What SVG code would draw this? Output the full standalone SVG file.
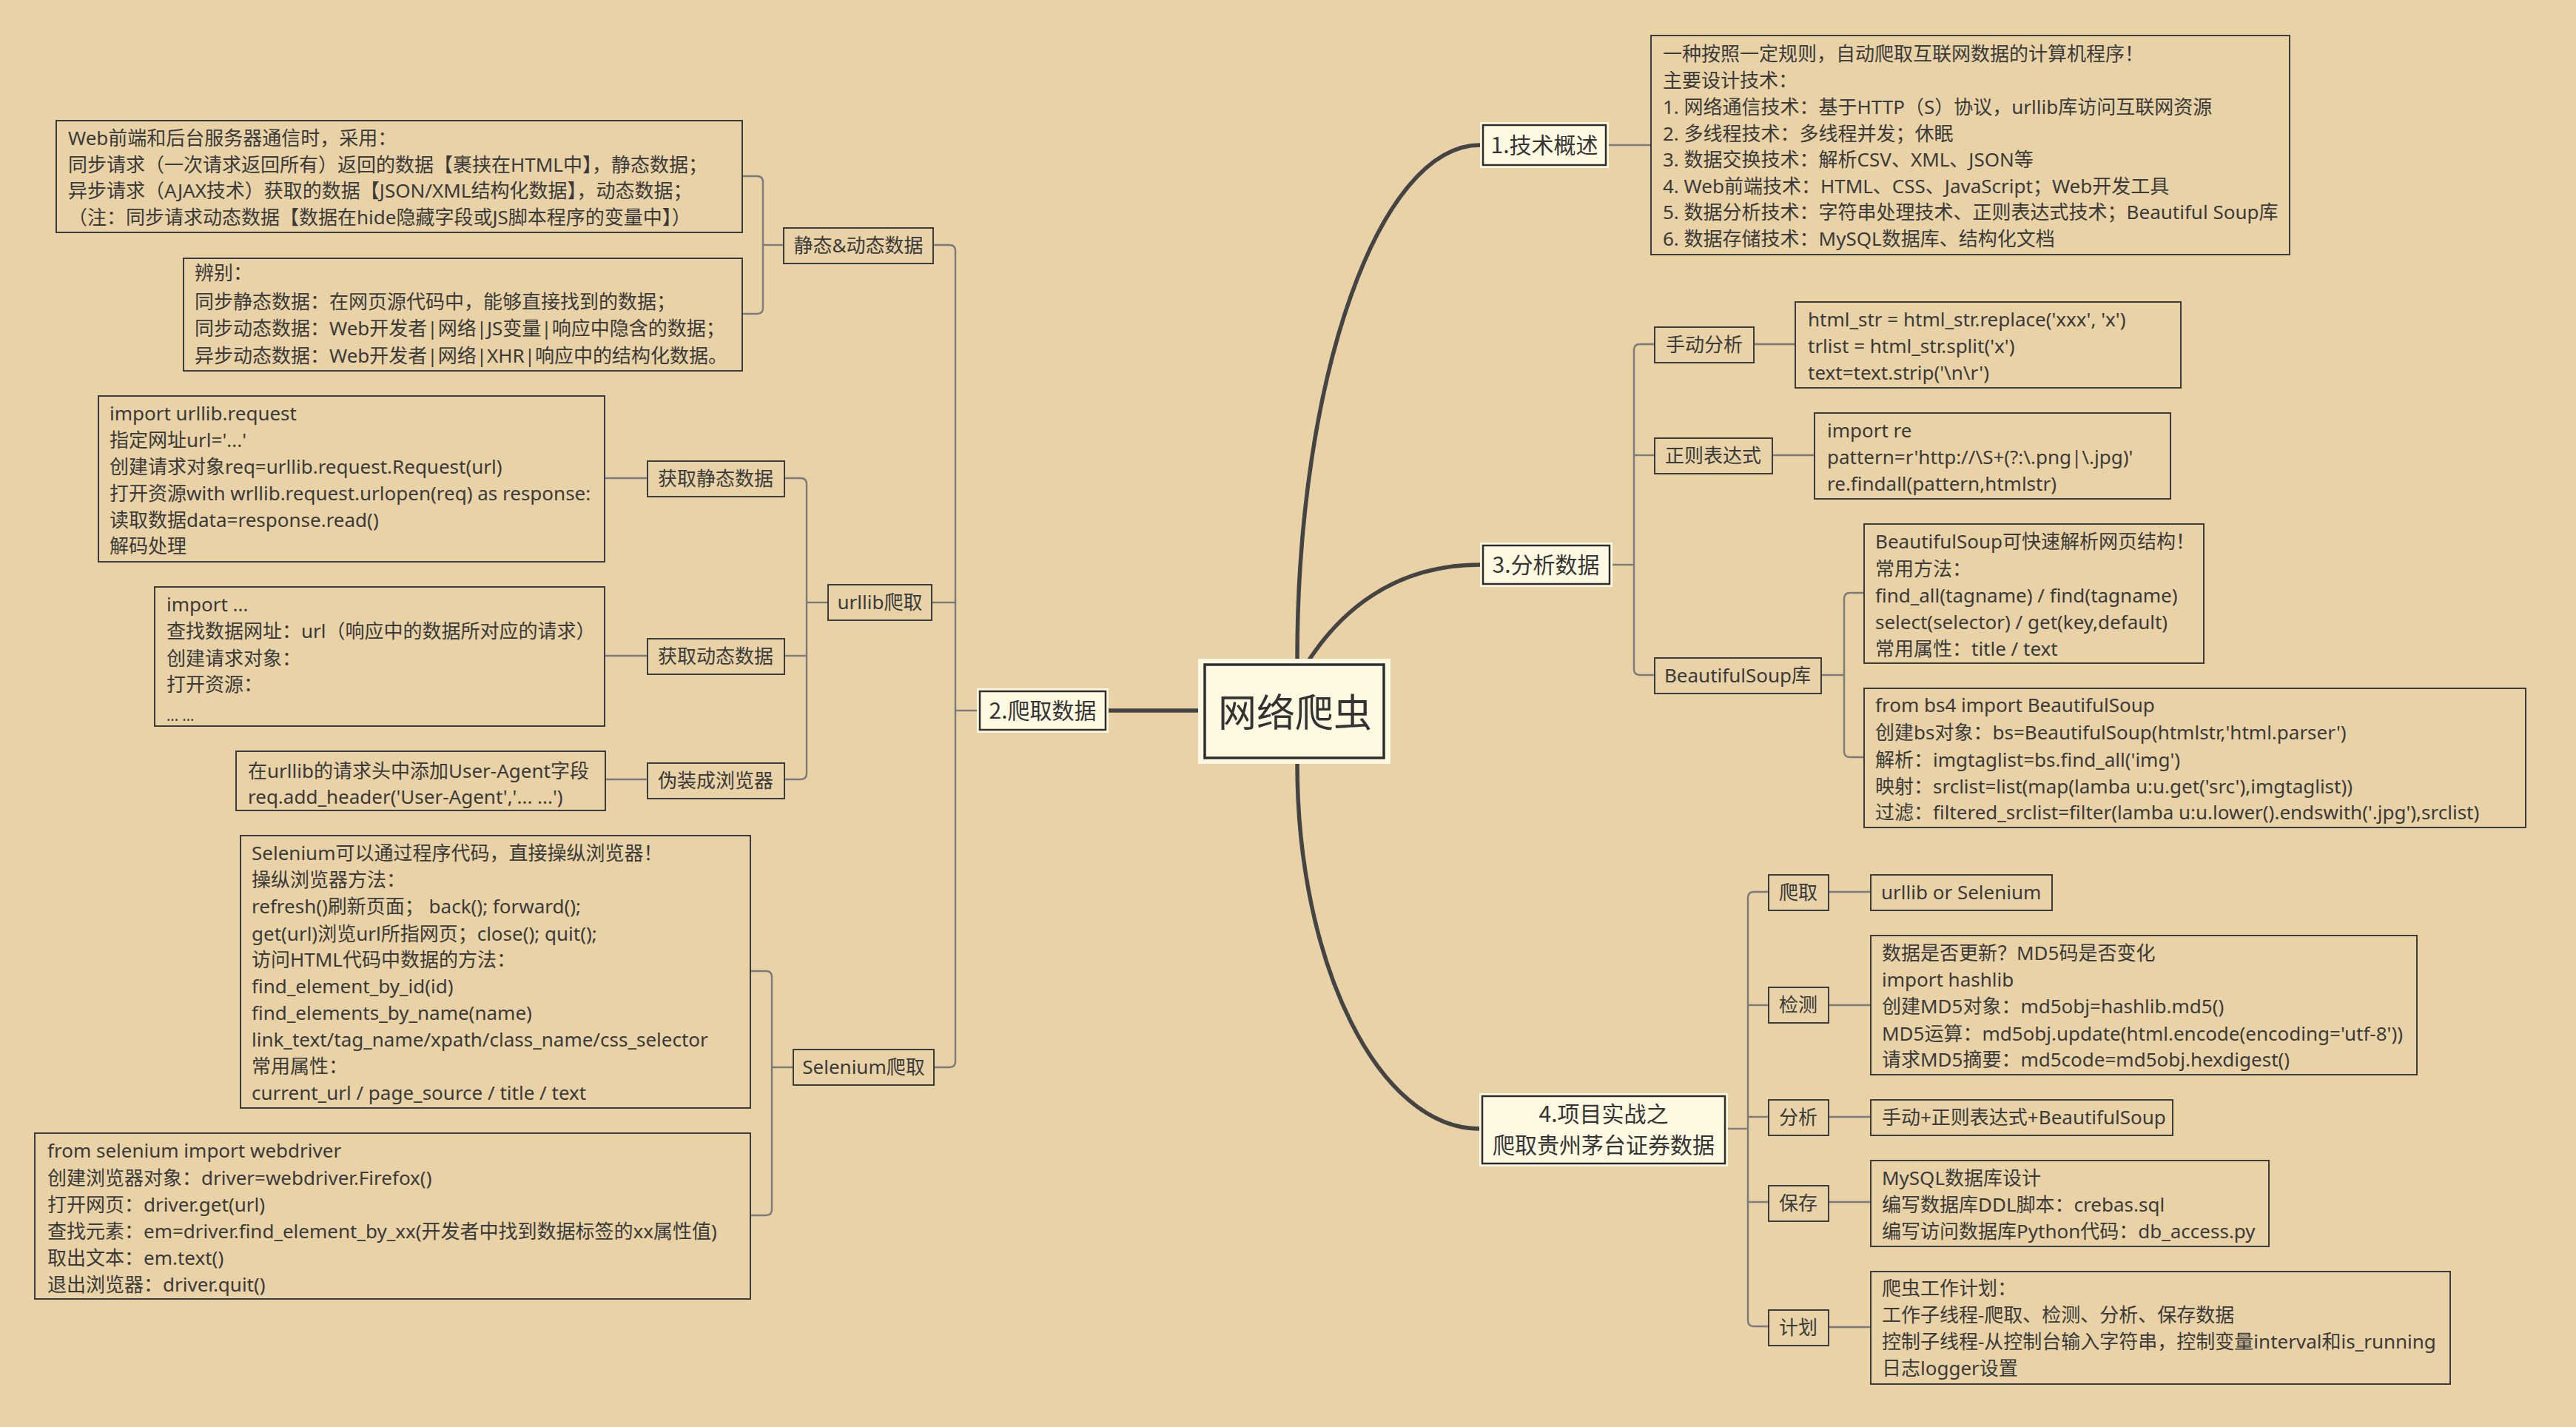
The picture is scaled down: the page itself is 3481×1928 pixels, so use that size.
<svg xmlns="http://www.w3.org/2000/svg" width="3481" height="1928" viewBox="0 0 3481 1928">
<style>
text{font-family:"Noto Sans","Noto Sans CJK SC",sans-serif;fill:#3a3a3a}
.t{font-size:26px}
.lb{font-size:26px;text-anchor:middle}
.mt{font-size:30px;text-anchor:middle;fill:#353535;font-family:"Noto Sans CJK SC","Noto Sans",sans-serif}
.box{fill:none;stroke:#3c3c3c;stroke-width:2}
.mo{fill:#FFF9E1}
.mi{fill:none;stroke:#2e2e2e;stroke-width:2.5}
.ln{fill:none;stroke:#7b7b7b;stroke-width:2.4}
.cv{fill:none;stroke:#444;stroke-width:5.5;stroke-linecap:round}
</style>
<rect x="0" y="0" width="3481" height="1928" fill="#E8D2A6"/>

<g id="connectors">
<path class="cv" d="M1753,890 C1753,508 1864,196 2000,196"/>
<path class="cv" d="M1770,890 C1810,830 1880,763 2000,763"/>
<path class="cv" d="M1753,1032 C1753,1304 1864,1525 1999,1525"/>
<path class="cv" d="M1619,960 H1498"/>
<path class="ln" d="M2174,196 H2231"/>
<path class="ln" d="M1261,331 H1283 Q1291,331 1291,339 V1434 Q1291,1442 1283,1442 H1262"/>
<path class="ln" d="M1259,814 H1291"/>
<path class="ln" d="M1320,960 H1291"/>
<path class="ln" d="M1003,238 H1023 Q1031,238 1031,246 V416 Q1031,424 1023,424 H1003"/>
<path class="ln" d="M1031,331 H1059"/>
<path class="ln" d="M1119,814 H1090"/>
<path class="ln" d="M1060,646 H1082 Q1090,646 1090,654 V1045 Q1090,1053 1082,1053 H1060"/>
<path class="ln" d="M1060,886 H1090"/>
<path class="ln" d="M817,646 H875"/>
<path class="ln" d="M817,886 H875"/>
<path class="ln" d="M818,1053 H875"/>
<path class="ln" d="M1072,1442 H1043"/>
<path class="ln" d="M1014,1312 H1035 Q1043,1312 1043,1320 V1634 Q1043,1642 1035,1642 H1014"/>
<path class="ln" d="M2179,763 H2208"/>
<path class="ln" d="M2236,465 H2216 Q2208,465 2208,473 V904 Q2208,912 2216,912 H2236"/>
<path class="ln" d="M2208,615 H2236"/>
<path class="ln" d="M2370,465 H2426"/>
<path class="ln" d="M2395,615 H2452"/>
<path class="ln" d="M2461,912 H2492"/>
<path class="ln" d="M2519,801 H2500 Q2492,801 2492,809 V1015 Q2492,1023 2500,1023 H2519"/>
<path class="ln" d="M2335,1525 H2362"/>
<path class="ln" d="M2390,1205 H2370 Q2362,1205 2362,1213 V1784 Q2362,1792 2370,1792 H2390"/>
<path class="ln" d="M2362,1358 H2390"/>
<path class="ln" d="M2362,1509 H2390"/>
<path class="ln" d="M2362,1624 H2390"/>
<path class="ln" d="M2471,1205 H2528"/>
<path class="ln" d="M2471,1358 H2528"/>
<path class="ln" d="M2471,1509 H2528"/>
<path class="ln" d="M2471,1624 H2528"/>
<path class="ln" d="M2471,1793 H2528"/>
</g>

<g id="root">
<rect class="mo" x="1619" y="890" width="260" height="142"/>
<rect class="mi" x="1628" y="898" width="242" height="126" style="stroke-width:3.5"/>
<text x="1750" y="982" style="font-size:52px;text-anchor:middle;fill:#333;font-family:'Noto Sans CJK SC',sans-serif">网络爬虫</text>
</g>

<g id="n1">
<rect class="mo" x="2000" y="165" width="174" height="62"/>
<rect class="mi" x="2004" y="169" width="166" height="54"/>
<text class="mt" x="2087" y="207">1.技术概述</text>
</g>
<g id="n1-desc">
<rect class="box" x="2231" y="48" width="863" height="296"/>
<text class="t" x="2247">
<tspan x="2247" y="82">一种按照一定规则，自动爬取互联网数据的计算机程序！</tspan>
<tspan x="2247" y="118">主要设计技术：</tspan>
<tspan x="2247" y="154">1. 网络通信技术：基于HTTP（S）协议，urllib库访问互联网资源</tspan>
<tspan x="2247" y="190">2. 多线程技术：多线程并发；休眠</tspan>
<tspan x="2247" y="225">3. 数据交换技术：解析CSV、XML、JSON等</tspan>
<tspan x="2247" y="261">4. Web前端技术：HTML、CSS、JavaScript；Web开发工具</tspan>
<tspan x="2247" y="296">5. 数据分析技术：字符串处理技术、正则表达式技术；Beautiful Soup库</tspan>
<tspan x="2247" y="332">6. 数据存储技术：MySQL数据库、结构化文档</tspan>
</text>
</g>

<g id="n2">
<rect class="mo" x="1320" y="930" width="178" height="60"/>
<rect class="mi" x="1324" y="934" width="170" height="52"/>
<text class="mt" x="1409" y="971">2.爬取数据</text>
</g>
<g id="n2-static">
<rect class="box" x="1059" y="308" width="202" height="48"/>
<text class="lb" x="1160" y="341">静态&amp;动态数据</text>
</g>
<g id="n2-static-t1">
<rect class="box" x="76" y="163" width="927" height="151"/>
<text class="t">
<tspan x="92" y="196">Web前端和后台服务器通信时，采用：</tspan>
<tspan x="92" y="232">同步请求（一次请求返回所有）返回的数据【裹挟在HTML中】，静态数据；</tspan>
<tspan x="92" y="267">异步请求（AJAX技术）获取的数据【JSON/XML结构化数据】，动态数据；</tspan>
<tspan x="92" y="303">（注：同步请求动态数据【数据在hide隐藏字段或JS脚本程序的变量中】）</tspan>
</text>
</g>
<g id="n2-static-t2">
<rect class="box" x="248" y="349" width="755" height="152"/>
<text class="t">
<tspan x="263" y="378">辨别：</tspan>
<tspan x="263" y="417">同步静态数据：在网页源代码中，能够直接找到的数据；</tspan>
<tspan x="263" y="453">同步动态数据：Web开发者|网络|JS变量|响应中隐含的数据；</tspan>
<tspan x="263" y="490">异步动态数据：Web开发者|网络|XHR|响应中的结构化数据。</tspan>
</text>
</g>
<g id="n2-urllib">
<rect class="box" x="1119" y="790" width="140" height="48"/>
<text class="lb" x="1189" y="823">urllib爬取</text>
</g>
<g id="n2-urllib-static">
<rect class="box" x="875" y="623" width="185" height="48"/>
<text class="lb" x="967" y="656">获取静态数据</text>
</g>
<g id="n2-urllib-static-t">
<rect class="box" x="133" y="535" width="684" height="224"/>
<text class="t">
<tspan x="148" y="568">import urllib.request</tspan>
<tspan x="148" y="604">指定网址url='...'</tspan>
<tspan x="148" y="640">创建请求对象req=urllib.request.Request(url)</tspan>
<tspan x="148" y="676">打开资源with wrllib.request.urlopen(req) as response:</tspan>
<tspan x="148" y="712">读取数据data=response.read()</tspan>
<tspan x="148" y="747">解码处理</tspan>
</text>
</g>
<g id="n2-urllib-dyn">
<rect class="box" x="875" y="863" width="185" height="48"/>
<text class="lb" x="967" y="896">获取动态数据</text>
</g>
<g id="n2-urllib-dyn-t">
<rect class="box" x="209" y="793" width="608" height="188"/>
<text class="t">
<tspan x="225" y="826">import ...</tspan>
<tspan x="225" y="862">查找数据网址：url（响应中的数据所对应的请求）</tspan>
<tspan x="225" y="899">创建请求对象：</tspan>
<tspan x="225" y="934">打开资源：</tspan>
<tspan x="225" y="974" style="font-size:20px">... ...</tspan>
</text>
</g>
<g id="n2-urllib-ua">
<rect class="box" x="875" y="1031" width="185" height="48"/>
<text class="lb" x="967" y="1064">伪装成浏览器</text>
</g>
<g id="n2-urllib-ua-t">
<rect class="box" x="319" y="1015" width="499" height="80"/>
<text class="t">
<tspan x="335" y="1051">在urllib的请求头中添加User-Agent字段</tspan>
<tspan x="335" y="1086">req.add_header('User-Agent','... ...')</tspan>
</text>
</g>
<g id="n2-selenium">
<rect class="box" x="1072" y="1418" width="190" height="48"/>
<text class="lb" x="1167" y="1451">Selenium爬取</text>
</g>
<g id="n2-selenium-t1">
<rect class="box" x="325" y="1129" width="689" height="368"/>
<text class="t">
<tspan x="340" y="1162">Selenium可以通过程序代码，直接操纵浏览器！</tspan>
<tspan x="340" y="1198">操纵浏览器方法：</tspan>
<tspan x="340" y="1234">refresh()刷新页面；  back();  forward();</tspan>
<tspan x="340" y="1271">get(url)浏览url所指网页；close();  quit();</tspan>
<tspan x="340" y="1306">访问HTML代码中数据的方法：</tspan>
<tspan x="340" y="1342">find_element_by_id(id)</tspan>
<tspan x="340" y="1378">find_elements_by_name(name)</tspan>
<tspan x="340" y="1414">link_text/tag_name/xpath/class_name/css_selector</tspan>
<tspan x="340" y="1450">常用属性：</tspan>
<tspan x="340" y="1486">current_url / page_source / title / text</tspan>
</text>
</g>
<g id="n2-selenium-t2">
<rect class="box" x="47" y="1531" width="967" height="224"/>
<text class="t">
<tspan x="64" y="1564">from selenium import webdriver</tspan>
<tspan x="64" y="1601">创建浏览器对象：driver=webdriver.Firefox()</tspan>
<tspan x="64" y="1637">打开网页：driver.get(url)</tspan>
<tspan x="64" y="1673">查找元素：em=driver.find_element_by_xx(开发者中找到数据标签的xx属性值)</tspan>
<tspan x="64" y="1709">取出文本：em.text()</tspan>
<tspan x="64" y="1745">退出浏览器：driver.quit()</tspan>
</text>
</g>

<g id="n3">
<rect class="mo" x="2000" y="733" width="179" height="60"/>
<rect class="mi" x="2004" y="737" width="171" height="52"/>
<text class="mt" x="2089" y="774">3.分析数据</text>
</g>
<g id="n3-manual">
<rect class="box" x="2236" y="442" width="134" height="48"/>
<text class="lb" x="2303" y="475">手动分析</text>
</g>
<g id="n3-manual-t">
<rect class="box" x="2426" y="408" width="521" height="116"/>
<text class="t">
<tspan x="2443" y="441">html_str = html_str.replace('xxx', 'x')</tspan>
<tspan x="2443" y="477">trlist = html_str.split('x')</tspan>
<tspan x="2443" y="513">text=text.strip('\n\r')</tspan>
</text>
</g>
<g id="n3-regex">
<rect class="box" x="2236" y="592" width="159" height="48"/>
<text class="lb" x="2315" y="625">正则表达式</text>
</g>
<g id="n3-regex-t">
<rect class="box" x="2452" y="558" width="481" height="116"/>
<text class="t">
<tspan x="2469" y="591">import re</tspan>
<tspan x="2469" y="627">pattern=r'http://\S+(?:\.png|\.jpg)'</tspan>
<tspan x="2469" y="663">re.findall(pattern,htmlstr)</tspan>
</text>
</g>
<g id="n3-bs">
<rect class="box" x="2236" y="889" width="225" height="48"/>
<text class="lb" x="2348" y="922">BeautifulSoup库</text>
</g>
<g id="n3-bs-t1">
<rect class="box" x="2519" y="708" width="459" height="188"/>
<text class="t">
<tspan x="2534" y="741">BeautifulSoup可快速解析网页结构！</tspan>
<tspan x="2534" y="778">常用方法：</tspan>
<tspan x="2534" y="814">find_all(tagname) / find(tagname)</tspan>
<tspan x="2534" y="850">select(selector) / get(key,default)</tspan>
<tspan x="2534" y="886">常用属性：title / text</tspan>
</text>
</g>
<g id="n3-bs-t2">
<rect class="box" x="2519" y="930" width="894" height="188"/>
<text class="t">
<tspan x="2534" y="962">from bs4 import BeautifulSoup</tspan>
<tspan x="2534" y="999">创建bs对象：bs=BeautifulSoup(htmlstr,'html.parser')</tspan>
<tspan x="2534" y="1036">解析：imgtaglist=bs.find_all('img')</tspan>
<tspan x="2534" y="1072">映射：srclist=list(map(lamba u:u.get('src'),imgtaglist))</tspan>
<tspan x="2534" y="1107">过滤：filtered_srclist=filter(lamba u:u.lower().endswith('.jpg'),srclist)</tspan>
</text>
</g>

<g id="n4">
<rect class="mo" x="1999" y="1477" width="336" height="99"/>
<rect class="mi" x="2003" y="1481" width="328" height="91"/>
<text class="mt" x="2167" y="1516">4.项目实战之</text>
<text class="mt" x="2167" y="1558">爬取贵州茅台证券数据</text>
</g>
<g id="n4-crawl">
<rect class="box" x="2390" y="1182" width="81" height="48"/>
<text class="lb" x="2430" y="1215">爬取</text>
</g>
<g id="n4-crawl-t">
<rect class="box" x="2528" y="1182" width="245" height="48"/>
<text class="t" x="2542" y="1215">urllib or Selenium</text>
</g>
<g id="n4-detect">
<rect class="box" x="2390" y="1334" width="81" height="48"/>
<text class="lb" x="2430" y="1367">检测</text>
</g>
<g id="n4-detect-t">
<rect class="box" x="2528" y="1264" width="738" height="188"/>
<text class="t">
<tspan x="2543" y="1297">数据是否更新？MD5码是否变化</tspan>
<tspan x="2543" y="1333">import hashlib</tspan>
<tspan x="2543" y="1369">创建MD5对象：md5obj=hashlib.md5()</tspan>
<tspan x="2543" y="1406">MD5运算：md5obj.update(html.encode(encoding='utf-8'))</tspan>
<tspan x="2543" y="1441">请求MD5摘要：md5code=md5obj.hexdigest()</tspan>
</text>
</g>
<g id="n4-analyze">
<rect class="box" x="2390" y="1486" width="81" height="48"/>
<text class="lb" x="2430" y="1519">分析</text>
</g>
<g id="n4-analyze-t">
<rect class="box" x="2528" y="1486" width="408" height="48"/>
<text class="t" x="2543" y="1519">手动+正则表达式+BeautifulSoup</text>
</g>
<g id="n4-save">
<rect class="box" x="2390" y="1602" width="81" height="48"/>
<text class="lb" x="2430" y="1635">保存</text>
</g>
<g id="n4-save-t">
<rect class="box" x="2528" y="1568" width="538" height="116"/>
<text class="t">
<tspan x="2543" y="1601">MySQL数据库设计</tspan>
<tspan x="2543" y="1637">编写数据库DDL脚本：crebas.sql</tspan>
<tspan x="2543" y="1673">编写访问数据库Python代码：db_access.py</tspan>
</text>
</g>
<g id="n4-plan">
<rect class="box" x="2390" y="1770" width="81" height="48"/>
<text class="lb" x="2430" y="1803">计划</text>
</g>
<g id="n4-plan-t">
<rect class="box" x="2528" y="1718" width="783" height="152"/>
<text class="t">
<tspan x="2543" y="1750">爬虫工作计划：</tspan>
<tspan x="2543" y="1786">工作子线程-爬取、检测、分析、保存数据</tspan>
<tspan x="2543" y="1822">控制子线程-从控制台输入字符串，控制变量interval和is_running</tspan>
<tspan x="2543" y="1858">日志logger设置</tspan>
</text>
</g>
</svg>
